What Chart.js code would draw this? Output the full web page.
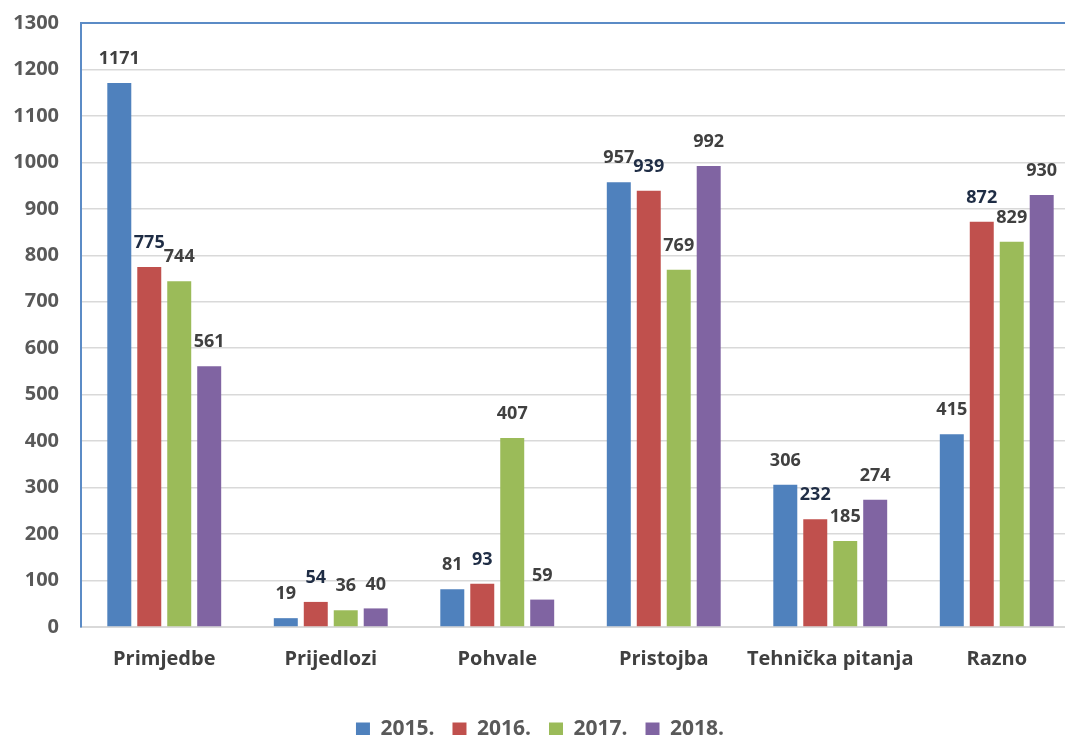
<!DOCTYPE html>
<html lang="hr">
  <head>
    <meta charset="UTF-8" />
    <title>Prigovori po godinama</title>
    <script src="https://cdn.jsdelivr.net/npm/chart.js@4.4.0/dist/chart.umd.min.js"></script>
    <style>
      html, body { margin: 0; padding: 0; overflow: hidden; background: #fff; }
    </style>
  </head>
  <body>
    <canvas id="myChart" width="1080" height="750"></canvas>

    <script>
      const categories = ['Primjedbe', 'Prijedlozi', 'Pohvale', 'Pristojba', 'Tehnička pitanja', 'Razno'];
      const years = ['2015.', '2016.', '2017.', '2018.'];
      const values2015 = [1171, 19, 81, 957, 306, 415];
      const values2016 = [775, 54, 93, 939, 232, 872];
      const values2017 = [744, 36, 407, 769, 185, 829];
      const values2018 = [561, 40, 59, 992, 274, 930];
      const colors = ['#4F81BD', '#C0504D', '#9BBB59', '#8064A2'];
      const labelColors = ['#404040', '#1F2D45', '#404040', '#404040'];

      const font = '"Open Sans", "Liberation Sans", sans-serif';

      // value labels above each bar
      const barLabels = {
        id: 'barLabels',
        afterDatasetsDraw(chart) {
          const ctx = chart.ctx;
          ctx.save();
          ctx.font = 'bold 18px ' + font;
          ctx.textAlign = 'center';
          ctx.textBaseline = 'middle';
          chart.data.datasets.forEach((ds, i) => {
            chart.getDatasetMeta(i).data.forEach((bar, j) => {
              ctx.fillStyle = labelColors[i];
              ctx.fillText(ds.data[j], bar.x, bar.y - 24);
            });
          });
          ctx.restore();
        }
      };

      // blue line on top of the plot area
      const topBorder = {
        id: 'topBorder',
        afterDraw(chart) {
          const a = chart.chartArea;
          const ctx = chart.ctx;
          ctx.save();
          ctx.strokeStyle = '#5B8BC6';
          ctx.lineWidth = 2;
          ctx.beginPath();
          ctx.moveTo(a.left, a.top);
          ctx.lineTo(a.right, a.top);
          ctx.stroke();
          ctx.restore();
        }
      };

      const ctx = document.getElementById('myChart').getContext('2d');
      const myChart = new Chart(ctx, {
        type: 'bar',
        data: {
          labels: categories,
          datasets: [values2015, values2016, values2017, values2018].map((d, i) => ({
            label: years[i],
            data: d,
            backgroundColor: colors[i],
            borderWidth: 0,
            categoryPercentage: 0.72,
            barPercentage: 0.8
          }))
        },
        options: {
          responsive: false,
          animation: false,
          layout: { padding: { top: 23, right: 0, left: 0, bottom: 0 } },
          plugins: {
            tooltip: { enabled: false },
            legend: {
              position: 'bottom',
              labels: {
                boxWidth: 14,
                boxHeight: 14,
                padding: 18,
                color: '#595959',
                font: { family: font, size: 21, weight: 'bold' }
              }
            }
          },
          scales: {
            x: {
              grid: { display: false },
              border: { color: '#D9D9D9', width: 2 },
              ticks: {
                color: '#404040',
                padding: 12,
                maxRotation: 0,
                autoSkip: false,
                font: { family: font, size: 20, weight: 'bold' }
              },
              afterFit: s => { s.height = 74; s.paddingLeft = 0; s.paddingRight = 0; }
            },
            y: {
              min: 0,
              max: 1300,
              grid: { color: '#D9D9D9', lineWidth: 1.5, drawTicks: false },
              border: { color: '#5B8BC6', width: 2 },
              ticks: {
                stepSize: 100,
                color: '#595959',
                padding: 22,
                font: { family: font, size: 20, weight: 'bold' },
                callback: v => String(v)
              },
              afterFit: s => { s.width = 81; s.paddingTop = 0; s.paddingBottom = 0; }
            }
          }
        },
        plugins: [barLabels, topBorder]
      });
    </script>
  </body>
</html>
